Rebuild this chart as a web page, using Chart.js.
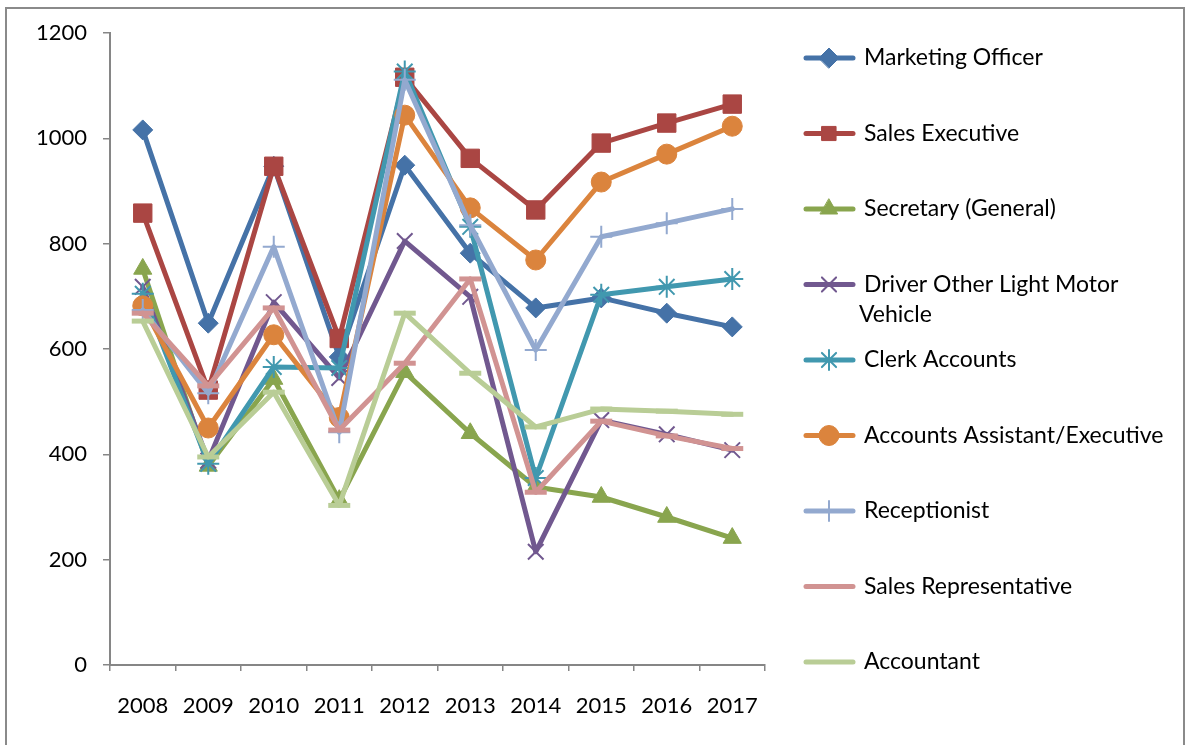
<!DOCTYPE html>
<html><head><meta charset="utf-8">
<script src="https://cdn.jsdelivr.net/npm/chart.js@4"></script>
<style>
html,body{margin:0;padding:0;background:#fff;overflow:hidden}
#wrap{position:relative;width:1188px;height:745px}
#frame{position:absolute;left:5px;top:7px;width:1180px;height:780px;border:2px solid #8a8a8a;box-sizing:border-box;pointer-events:none}
canvas{position:absolute;left:0;top:0}
</style></head><body>
<div id="wrap"><canvas id="c" width="1188" height="745"></canvas><div id="frame"></div></div>
<script>
const years = ['2008','2009','2010','2011','2012','2013','2014','2015','2016','2017'];
const seriesNames = ['Marketing Officer','Sales Executive','Secretary (General)','Driver Other Light Motor Vehicle','Clerk Accounts','Accounts Assistant/Executive','Receptionist','Sales Representative','Accountant'];
const marketingOfficer   = [1016, 649, 947, 585, 949, 782, 678, 697, 668, 642];
const salesExecutive     = [858, 522, 947, 620, 1116, 962, 864, 991, 1029, 1065];
const secretaryGeneral   = [752, 378, 543, 313, 556, 440, 338, 319, 281, 241];
const driverLightMotor   = [718, 388, 689, 545, 805, 699, 215, 465, 438, 408];
const clerkAccounts      = [705, 382, 566, 564, 1127, 832, 355, 703, 718, 733];
const accountsAssistant  = [682, 450, 627, 470, 1044, 868, 769, 917, 970, 1023];
const receptionist       = [674, 516, 794, 442, 1111, 835, 598, 813, 839, 866];
const salesRepresentative= [668, 530, 678, 446, 573, 733, 328, 463, 435, 411];
const accountant         = [653, 395, 518, 303, 668, 554, 452, 486, 482, 476];
const yTicks = [0, 200, 400, 600, 800, 1000, 1200];

const values = [marketingOfficer, salesExecutive, secretaryGeneral, driverLightMotor, clerkAccounts, accountsAssistant, receptionist, salesRepresentative, accountant];
const colors = ['#4572A7','#AA4643','#89A54E','#71588F','#4198AF','#DB843D','#93A9CF','#D19392','#B9CD96'];
const styles = ['rectRot','rect','triangle','crossRot','star','circle','cross','line','line'];
const radii  = [10, 13, 10.5, 11, 11, 10, 11, 11, 11];
const pbw    = [1, 1, 1, 2, 2, 1, 2, 5, 5];

const FONT = 'Lato';
const datasets = values.map((v,i)=>({
  label: seriesNames[i],
  data: v,
  borderColor: colors[i],
  backgroundColor: colors[i],
  pointBackgroundColor: colors[i],
  pointBorderColor: colors[i],
  pointStyle: styles[i],
  pointRadius: radii[i],
  pointHoverRadius: radii[i],
  pointBorderWidth: pbw[i],
  borderWidth: 5,
  borderJoinStyle: 'round',
  borderCapStyle: 'round',
  tension: 0,
  fill: false,
  order: values.length - i
}));

const sideLegend = {
  id: 'sideLegend',
  afterDraw(chart){
    const ctx = chart.ctx;
    chart.data.datasets.forEach((ds,i)=>{
      const y = 58 + i*75.5;
      ctx.save();
      ctx.strokeStyle = ds.borderColor; ctx.lineWidth = 5; ctx.lineCap = 'round';
      ctx.beginPath(); ctx.moveTo(806, y); ctx.lineTo(853, y); ctx.stroke();
      ctx.fillStyle = ds.pointBackgroundColor; ctx.strokeStyle = ds.pointBorderColor;
      ctx.lineWidth = ds.pointBorderWidth;
      const r = ds.pointStyle === 'line' ? 0 : Math.min(ds.pointRadius, 10);
      if (r > 0) Chart.helpers.drawPoint(ctx, {pointStyle: ds.pointStyle, radius: r, rotation: 0, borderWidth: ds.pointBorderWidth}, 829, y);
      ctx.fillStyle = '#000';
      ctx.font = '23px ' + FONT;
      ctx.textBaseline = 'middle';
      ctx.textAlign = 'left';
      const words = ds.label.split(' ');
      const lines = []; let cur = '';
      words.forEach(w=>{
        const t = cur ? cur + ' ' + w : w;
        if (ctx.measureText(t).width > 310 && cur) { lines.push(cur); cur = w; } else cur = t;
      });
      lines.push(cur);
      lines.forEach((ln,k)=>ctx.fillText(ln, k===0 ? 864 : 859, y + k*30));
      ctx.restore();
    });
  }
};

new Chart(document.getElementById('c'), {
  type: 'line',
  data: { labels: years, datasets },
  options: {
    responsive: false, animation: false, devicePixelRatio: 1,
    layout: { padding: { top: 33, right: 423, bottom: 20, left: 0 } },
    plugins: { legend: { display: false }, tooltip: { enabled: false } },
    scales: {
      x: {
        offset: true,
        grid: { offset: true, drawOnChartArea: false, drawTicks: true, tickLength: 6, color: '#868686', lineWidth: 1.5 },
        border: { color: '#868686', width: 2 },
        ticks: { color: '#000', font: { family: FONT, size: 22 }, padding: 22, maxRotation: 0, autoSkip: false },
        afterFit(s){ s.height = 60; }
      },
      y: {
        min: 0, max: 1200,
        afterBuildTicks(s){ s.ticks = yTicks.map(v=>({value:v})); },
        grid: { drawOnChartArea: false, drawTicks: true, tickLength: 7, color: '#868686', lineWidth: 1.5 },
        border: { color: '#868686', width: 2 },
        ticks: { color: '#000', font: { family: FONT, size: 22 }, padding: 16, callback: v => String(v) },
        afterFit(s){ s.width = 110; }
      }
    }
  },
  plugins: [sideLegend]
});
</script>
</body></html>
